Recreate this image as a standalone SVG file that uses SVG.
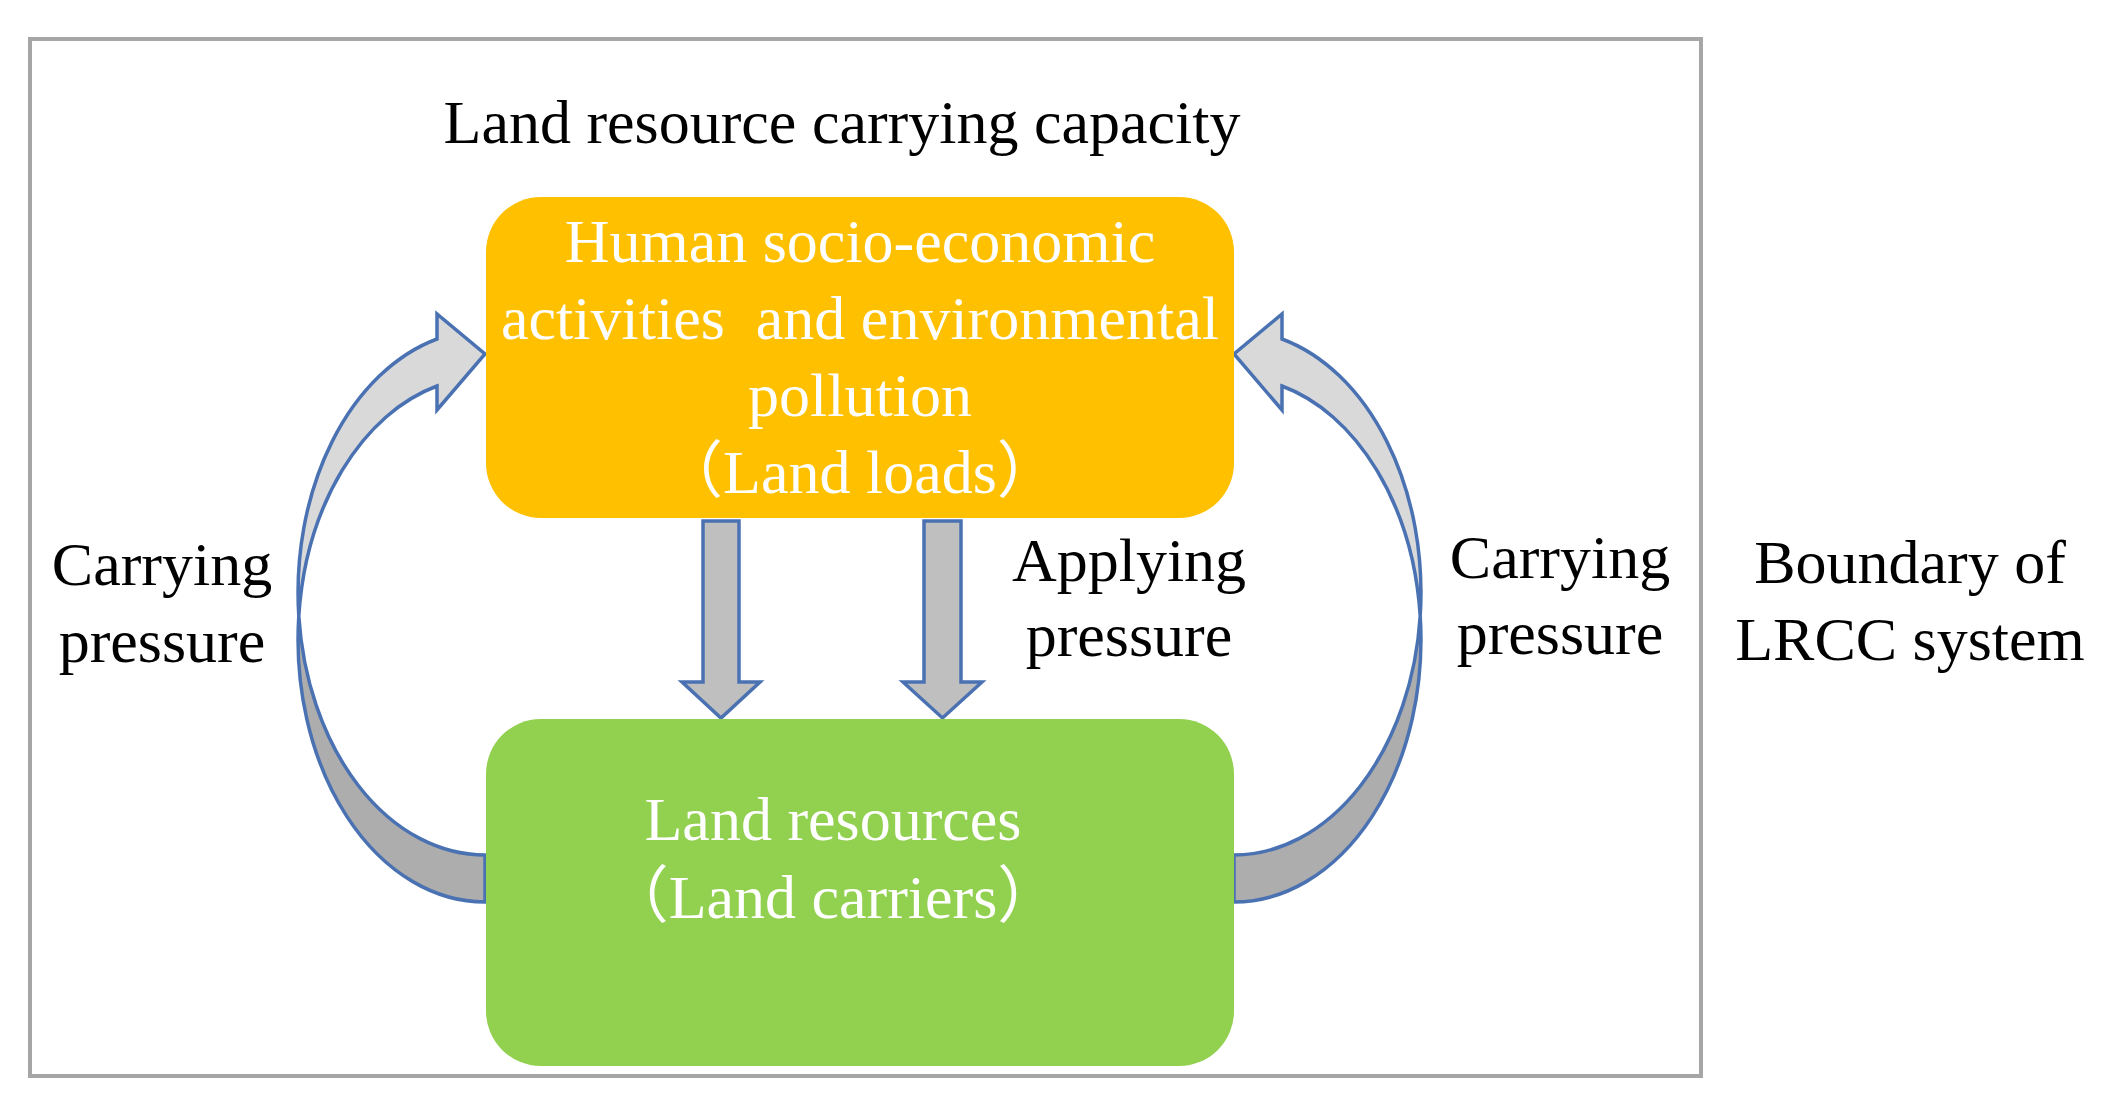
<svg xmlns="http://www.w3.org/2000/svg" width="2120" height="1104" viewBox="0 0 2120 1104">
<style>
.lbl{font-family:"Liberation Serif","Noto Sans CJK SC",serif;font-size:62px;fill:#000;text-anchor:middle}
.wt{font-family:"Liberation Serif","Noto Sans CJK SC",serif;font-size:62px;fill:#fff;text-anchor:middle}
.arr{stroke:#4a72b2;stroke-width:3.5;stroke-linejoin:miter}
.light{fill:#d9d9d9}
.dark{fill:#adadad}
.down{fill:#bfbfbf}
</style>
<rect x="30" y="39" width="1671" height="1037" fill="#fff" stroke="#a6a6a6" stroke-width="4"/>
<text class="lbl" x="842" y="143">Land resource carrying capacity</text>
<g id="connectors">
  <g id="curve-left">
    <path class="arr dark" d="M298.8,616 A187,262.4 0 0 0 485,902 L485,855 A187,262.4 0 0 1 298.8,616 Z"/>
    <path class="arr light" d="M298.8,616 A187,262.4 0 0 1 437,339 L437,314 L485,354 L437,410 L437,386 A187,262.4 0 0 0 298.8,616 Z"/>
  </g>
  <g id="curve-right" transform="translate(1719,0) scale(-1,1)">
    <path class="arr dark" d="M298.8,616 A187,262.4 0 0 0 485,902 L485,855 A187,262.4 0 0 1 298.8,616 Z"/>
    <path class="arr light" d="M298.8,616 A187,262.4 0 0 1 437,339 L437,314 L485,354 L437,410 L437,386 A187,262.4 0 0 0 298.8,616 Z"/>
  </g>
  <path id="down-left" class="arr down" d="M703,521 L739,521 L739,682 L760,682 L721,718 L682,682 L703,682 Z"/>
  <path id="down-right" class="arr down" d="M924,521 L961,521 L961,682 L982,682 L942.5,718 L903,682 L924,682 Z"/>
</g>
<g id="node-loads">
  <rect x="486" y="197" width="748" height="321" rx="55" ry="55" fill="#ffc000"/>
  <text class="wt" x="860" y="262">Human socio-economic</text>
  <text class="wt" x="860" y="339" xml:space="preserve" style="white-space:pre">activities  and environmental</text>
  <text class="wt" x="860" y="416">pollution</text>
  <text class="wt" x="860" y="493">（Land loads）</text>
</g>
<g id="node-carriers">
  <rect x="486" y="719" width="748" height="347" rx="55" ry="55" fill="#92d050"/>
  <text class="wt" x="833" y="840">Land resources</text>
  <text class="wt" x="833" y="918">（Land carriers）</text>
</g>
<g id="label-left">
  <text class="lbl" x="162" y="585">Carrying</text>
  <text class="lbl" x="162" y="662">pressure</text>
</g>
<g id="label-applying">
  <text class="lbl" x="1129" y="581">Applying</text>
  <text class="lbl" x="1129" y="656">pressure</text>
</g>
<g id="label-right">
  <text class="lbl" x="1560" y="578">Carrying</text>
  <text class="lbl" x="1560" y="654">pressure</text>
</g>
<g id="label-boundary">
  <text class="lbl" x="1910" y="583">Boundary of</text>
  <text class="lbl" x="1910" y="660">LRCC system</text>
</g>
</svg>
